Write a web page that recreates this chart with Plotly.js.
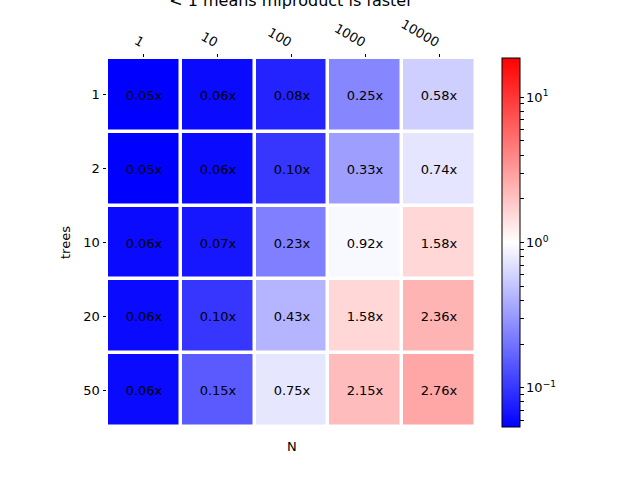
<!DOCTYPE html>
<html>
<head>
<meta charset="utf-8">
<script src="https://cdn.plot.ly/plotly-3.0.1.min.js"></script>
<style>
  body { margin: 0; background: #fff; }
  #chart { width: 640px; height: 480px; }
</style>
</head>
<body>
<div id="chart"></div>
<script>
// sample sizes (columns) and tree counts (rows)
const nValues = ['1', '10', '100', '1000', '10000'];
const treeCounts = ['1', '2', '10', '20', '50'];

// speed ratio, one row per tree count
const ratioTrees1 = [0.05, 0.06, 0.08, 0.25, 0.58];
const ratioTrees2 = [0.05, 0.06, 0.10, 0.33, 0.74];
const ratioTrees10 = [0.06, 0.07, 0.23, 0.92, 1.58];
const ratioTrees20 = [0.06, 0.10, 0.43, 1.58, 2.36];
const ratioTrees50 = [0.06, 0.15, 0.75, 2.15, 2.76];

const ratios = [ratioTrees1, ratioTrees2, ratioTrees10, ratioTrees20, ratioTrees50];

// symmetric log colour range around 1
const logMax = 1.27;

// colorbar ticks: decades labelled, the rest unlabelled
const cbarMajor = [-1, 0, 1];
const cbarMinor = [];
[0.01, 0.1, 1, 10].forEach(base => {
  for (let k = 2; k <= 9; k++) {
    const lv = Math.log10(base * k);
    if (lv > -logMax && lv < logMax) cbarMinor.push(lv);
  }
});

const zLog = ratios.map(row => row.map(v => Math.log10(v)));
const labels = ratios.map(row => row.map(v => v.toFixed(2) + 'x'));

const bwr = [
  [0, 'rgb(0,0,255)'],
  [0.5, 'rgb(255,255,255)'],
  [1, 'rgb(255,0,0)']
];

const trace = {
  type: 'heatmap',
  x: nValues,
  y: treeCounts,
  z: zLog,
  text: labels,
  texttemplate: '%{text}',
  textfont: { size: 13, color: 'black' },
  colorscale: bwr,
  zmin: -logMax,
  zmax: logMax,
  xgap: 3.5,
  ygap: 3.5,
  hoverinfo: 'skip',
  colorbar: {
    x: 1.07,
    xanchor: 'left',
    xpad: 0,
    ypad: 0,
    y: 0.5,
    len: 1,
    thickness: 18,
    outlinewidth: 1,
    outlinecolor: 'black',
    ticks: 'outside',
    ticklen: 3.5,
    tickcolor: 'black',
    tickvals: cbarMajor.concat(cbarMinor),
    ticktext: ['10<sup>−1</sup>', '10<sup>0</sup>', '10<sup>1</sup>'].concat(cbarMinor.map(() => '')),
    tickfont: { size: 13, color: 'black' }
  }
};

const layout = {
  width: 640,
  height: 480,
  paper_bgcolor: 'white',
  plot_bgcolor: 'white',
  font: { family: 'DejaVu Sans', color: 'black' },
  margin: { l: 107, r: 164, t: 58, b: 53 },
  title: {
    text: '< 1 means mlproduct is faster',
    font: { size: 16, color: 'black' },
    x: 291 / 640,
    xanchor: 'center',
    xref: 'container',
    yref: 'container',
    y: 1 - 6 / 480,
    yanchor: 'bottom'
  },
  xaxis: {
    type: 'category',
    side: 'top',
    tickangle: 30,
    ticks: 'outside',
    ticklen: 3.5,
    tickcolor: 'black',
    tickfont: { size: 13 },
    showgrid: false,
    zeroline: false,
    showline: false
  },
  yaxis: {
    type: 'category',
    autorange: 'reversed',
    ticks: 'outside',
    ticklen: 3.5,
    tickcolor: 'black',
    tickfont: { size: 13 },
    showgrid: false,
    zeroline: false,
    showline: false,
    title: { text: 'trees', font: { size: 13 }, standoff: 9 }
  },
  annotations: [{
    text: 'N',
    xref: 'paper',
    yref: 'paper',
    x: 0.5,
    y: 0,
    yanchor: 'top',
    yshift: -10,
    showarrow: false,
    font: { size: 13 }
  }]
};

Plotly.newPlot('chart', [trace], layout, { displayModeBar: false, staticPlot: true });
</script>
</body>
</html>
